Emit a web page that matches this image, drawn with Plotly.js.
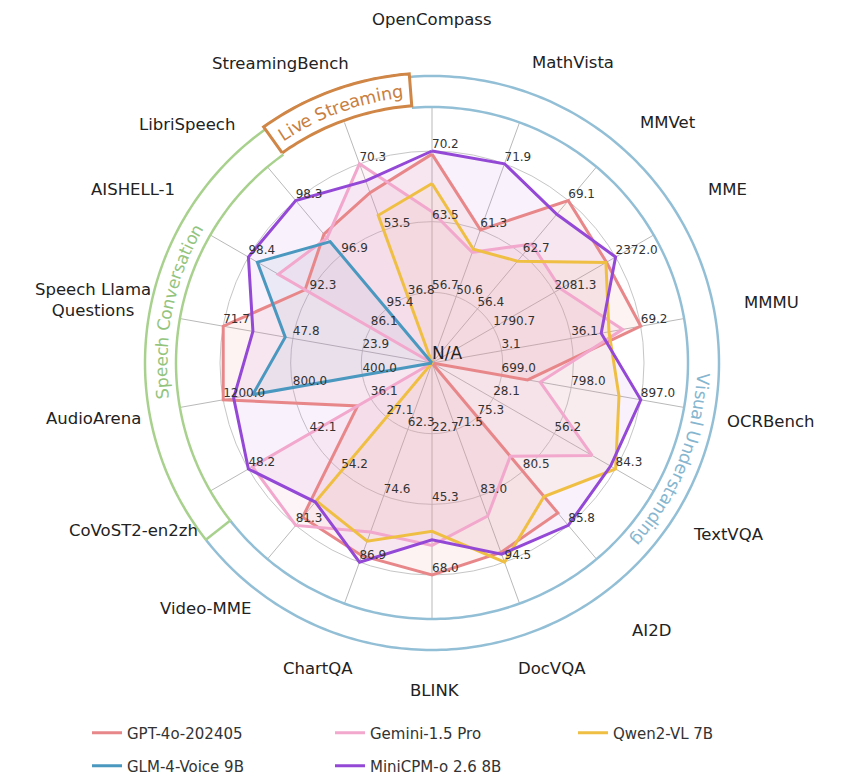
<!DOCTYPE html>
<html>
<head>
<meta charset="utf-8">
<script src="https://cdn.plot.ly/plotly-3.0.1.min.js"></script>
<style>html,body{margin:0;padding:0;background:#fff}#chart{width:850px;height:784px}</style>
</head>
<body>
<div id="chart"></div>
<script>
// ---------------- data ----------------
const categories = ['OpenCompass','MathVista','MMVet','MME','MMMU','OCRBench','TextVQA','AI2D','DocVQA','BLINK','ChartQA','Video-MME','CoVoST2-en2zh','AudioArena','Speech Llama<br>Questions','AISHELL-1','LibriSpeech','StreamingBench'];
const tickLow  = [56.7, 50.6, 56.4, 1790.7, 3.1, 699.0, 28.1, 75.3, 71.5, 22.7, 62.3, 27.1, 36.1, 400.0, 23.9, 86.1, 95.4, 36.8];
const tickMid  = [63.5, 61.3, 62.7, 2081.3, 36.1, 798.0, 56.2, 80.5, 83.0, 45.3, 74.6, 54.2, 42.1, 800.0, 47.8, 92.3, 96.9, 53.5];
const tickHigh = [70.2, 71.9, 69.1, 2372.0, 69.2, 897.0, 84.3, 85.8, 94.5, 68.0, 86.9, 81.3, 48.2, 1200.0, 71.7, 98.4, 98.3, 70.3];
const centerLabel = 'N/A';

const seriesNames = ['GPT-4o-202405','Gemini-1.5 Pro','Qwen2-VL 7B','GLM-4-Voice 9B','MiniCPM-o 2.6 8B'];
// null = N/A (drawn at the centre)
const gpt4o   = [69.9, 61.3, 69.1, 2328.7, 69.2, 736, null, 84.6, 92.8, 68.0, 85.7, 77.2, 37.4, 1200, 71.7, 92.7, 97.4, 63.0];
const gemini  = [64.4, 57.7, 64.0, 2110.6, 60.6, 754, 73.5, 79.1, 86.5, 58.5, 81.3, 81.3, 47.8, null, null, 95.4, 97.3, 70.3];
const qwen2vl = [67.1, 58.2, 62.0, 2326.0, 54.1, 866, 84.3, 83.0, 94.5, 54.0, 83.0, 69.0, null, null, null, null, null, 57.3];
const glm4    = [null, null, null, null, null, null, null, null, null, null, null, null, null, 1030, 50.4, 97.5, 97.2, null];
const minicpm = [70.2, 71.9, 67.5, 2372.0, 50.4, 897, 82.0, 85.8, 93.1, 56.7, 86.9, 69.6, 48.2, 1140, 61.5, 98.4, 98.3, 66.0];
const seriesValues = [gpt4o, gemini, qwen2vl, glm4, minicpm];

const groupNames = ['Visual Understanding','Speech Conversation','Live Streaming'];

// ---------------- layout / style ----------------
const W = 850, H = 784, CX = 432, CY = 363;
const R_OUT = 292, RING = 212, SPOKE = 256, BAND_IN = 256, BAND_OUT = 287;
const FONT = '"DejaVu Sans", "Liberation Sans", sans-serif';
const colors = ['#e8878a','#f2a7cc','#efbf44','#4a98c0','#9448d6'];
const fillColors = ['rgba(232,135,138,0.10)','rgba(242,167,204,0.13)','rgba(239,191,68,0.07)','rgba(74,152,192,0.08)','rgba(200,120,220,0.10)'];
const labelCenters = [[432,19],[573,62],[668,122],[727,190],[771,302],[770,421],[728,534],[651,630],[552,668],[435,690],[318,668],[205,608],[133,530],[93,418],[93,300],[133,190],[187,125],[280,64]];
const groupStyle = [
  {center:112,   R:271, size:17.5, color:'#86b6cf'},
  {center:281.5, R:271, size:17,   color:'#93c47d'},
  {center:340,   R:273, size:17.5, color:'#c9803f'}
];
const legendPos = [[95,733],[338,733],[581,733],[95,766],[338,766]];

const N = categories.length;
const thetaOf = i => i * 360 / N;
function toR(v, i) {
  if (v === null) return 0;
  const step = (tickHigh[i] - tickLow[i]) / 2;
  const vmin = tickLow[i] - step;
  return (v - vmin) / (tickHigh[i] - vmin) * RING;
}
function arcPts(t0, t1, r) {
  const th = [], rr = [];
  const n = Math.max(2, Math.ceil(Math.abs(t1 - t0)));
  for (let k = 0; k <= n; k++) { th.push(t0 + (t1 - t0) * k / n); rr.push(r); }
  return {th, rr};
}

const traces = [];
const base = {type:'scatterpolar', hoverinfo:'skip', showlegend:false};

// spokes
{
  const r = [], t = [];
  for (let i = 0; i < N; i++) { r.push(0, SPOKE, null); t.push(thetaOf(i), thetaOf(i), null); }
  traces.push({...base, mode:'lines', r, theta:t, line:{color:'#b9b9b9', width:1}});
}

// fills
seriesValues.forEach((vals, s) => {
  const r = vals.map(toR), t = vals.map((_, i) => thetaOf(i));
  r.push(r[0]); t.push(t[0]);
  traces.push({...base, mode:'lines', r, theta:t, fill:'toself', fillcolor:fillColors[s], line:{width:0, color:'rgba(0,0,0,0)'}});
});

// lines (legend entries)
seriesValues.forEach((vals, s) => {
  const r = vals.map(toR), t = vals.map((_, i) => thetaOf(i));
  r.push(r[0]); t.push(t[0]);
  traces.push({type:'scatterpolar', hoverinfo:'skip', mode:'lines', name:seriesNames[s], r, theta:t,
    line:{color:colors[s], width:3}, showlegend:true, legend: s === 0 ? 'legend' : 'legend' + (s + 1)});
});

// group bands
const blueIn = arcPts(355.5, 592, BAND_IN), blueOut = arcPts(355.5, 592, BAND_OUT);
const greenIn = arcPts(232, 324.5, BAND_IN), greenOut = arcPts(232, 324.5, BAND_OUT);
[[blueIn, '#93bfd6'], [blueOut, '#93bfd6'], [greenIn, '#a9d18e'], [greenOut, '#a9d18e']].forEach(([a, c]) => {
  traces.push({...base, mode:'lines', r:a.rr, theta:a.th, line:{color:c, width:2.5}});
});
traces.push({...base, mode:'lines', r:[BAND_IN, BAND_OUT], theta:[232, 232], line:{color:'#a9d18e', width:2.5}});
{
  const a = arcPts(324.5, 355.5, 258), b = arcPts(355.5, 324.5, 290);
  const r = a.rr.concat(b.rr, [258]), t = a.th.concat(b.th, [324.5]);
  traces.push({...base, mode:'lines', r, theta:t, fill:'toself', fillcolor:'#ffffff', line:{color:'#cf8646', width:3}});
}

// tick labels
{
  const r = [], t = [], txt = [];
  for (let i = 0; i < N; i++) {
    [tickLow[i], tickMid[i], tickHigh[i]].forEach((v, k) => {
      r.push(RING * (k + 1) / 3); t.push(thetaOf(i)); txt.push(v.toFixed(1));
    });
  }
  traces.push({...base, mode:'text', r, theta:t, text:txt, textposition:'top right', cliponaxis:false,
    textfont:{family:FONT, size:12, color:'#333'}});
  traces.push({...base, mode:'text', r:[0], theta:[0], text:[centerLabel], textposition:'top right', cliponaxis:false,
    textfont:{family:FONT, size:17, color:'#222'}});
}

// annotations: category labels
const annotations = categories.map((c, i) => ({
  text:c, x:labelCenters[i][0] / W, y:1 - labelCenters[i][1] / H, xref:'paper', yref:'paper',
  xanchor:'center', yanchor:'middle', showarrow:false, align:'center',
  font:{family:FONT, size:16.5, color:'#222'}
}));

// curved group titles (one annotation per character)
const ctx = document.createElement('canvas').getContext('2d');
groupNames.forEach((name, g) => {
  const st = groupStyle[g];
  ctx.font = st.size + 'px "DejaVu Sans"';
  const chars = Array.from(name);
  const widths = chars.map(ch => ctx.measureText(ch).width);
  const total = widths.reduce((a, b) => a + b, 0);
  let acc = -total / 2;
  chars.forEach((ch, k) => {
    const mid = acc + widths[k] / 2; acc += widths[k];
    if (ch === ' ') return;
    const th = st.center + mid / st.R * 180 / Math.PI;
    const rad = th * Math.PI / 180;
    const x = CX + st.R * Math.sin(rad), y = CY - st.R * Math.cos(rad);
    annotations.push({text:ch, x:x / W, y:1 - y / H, xref:'paper', yref:'paper', xanchor:'center', yanchor:'middle',
      showarrow:false, textangle:th > 180 ? th - 360 : th, borderpad:0,
      font:{family:FONT, size:st.size, color:st.color}});
  });
});

const layout = {
  width:W, height:H, margin:{l:0, r:0, t:0, b:0},
  paper_bgcolor:'#ffffff',
  polar:{
    domain:{x:[(CX - R_OUT) / W, (CX + R_OUT) / W], y:[1 - (CY + R_OUT) / H, 1 - (CY - R_OUT) / H]},
    bgcolor:'rgba(0,0,0,0)',
    radialaxis:{range:[0, R_OUT], tickvals:[RING / 3, 2 * RING / 3, RING], showticklabels:false, ticks:'',
      showline:false, gridcolor:'#c6c6c6', gridwidth:1, layer:'below traces'},
    angularaxis:{rotation:90, direction:'clockwise', showgrid:false, showticklabels:false, ticks:'',
      showline:false, layer:'below traces'}
  },
  annotations,
  showlegend:true
};
legendPos.forEach((p, s) => {
  layout[s === 0 ? 'legend' : 'legend' + (s + 1)] = {
    x:(p[0] - 8) / W, y:1 - p[1] / H, xanchor:'left', yanchor:'middle', orientation:'h',
    bgcolor:'rgba(0,0,0,0)', font:{family:FONT, size:15, color:'#333'}
  };
});

Plotly.newPlot('chart', traces, layout, {displayModeBar:false, staticPlot:true});
</script>
</body>
</html>
